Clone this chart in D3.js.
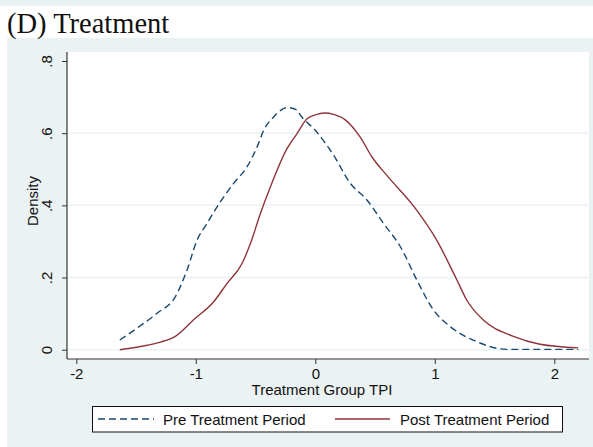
<!DOCTYPE html>
<html>
<head>
<meta charset="utf-8">
<script src="https://cdn.jsdelivr.net/npm/d3@7"></script>
<style>
  body { margin: 0; background: #fff; }
  svg text { font-family: "Liberation Sans", Arial, sans-serif; }
</style>
</head>
<body>
<div id="chart"></div>
<script>
// density estimates
const preX = [-1.636, -1.491, -1.324, -1.171, -1.073, -0.989, -0.906, -0.822, -0.683, -0.571, -0.487, -0.432, -0.349, -0.307, -0.237, -0.153, -0.125, 0.0, 0.153, 0.293, 0.432, 0.571, 0.711, 0.850, 0.989, 1.129, 1.352, 1.603, 1.9, 2.20];
const preY = [0.027, 0.060, 0.101, 0.147, 0.221, 0.304, 0.350, 0.396, 0.461, 0.507, 0.562, 0.608, 0.645, 0.659, 0.671, 0.664, 0.650, 0.608, 0.539, 0.461, 0.415, 0.350, 0.286, 0.193, 0.110, 0.064, 0.022, 0.001, 0.001, 0.001];
const postX = [-1.636, -1.463, -1.296, -1.171, -1.018, -0.85, -0.738, -0.613, -0.543, -0.460, -0.376, -0.237, -0.153, -0.069, 0.014, 0.084, 0.153, 0.251, 0.376, 0.474, 0.599, 0.850, 1.017, 1.185, 1.268, 1.407, 1.658, 1.881, 2.20];
const postY = [0.0, 0.009, 0.021, 0.037, 0.083, 0.133, 0.184, 0.239, 0.294, 0.377, 0.451, 0.557, 0.599, 0.640, 0.652, 0.656, 0.652, 0.637, 0.589, 0.534, 0.483, 0.386, 0.303, 0.193, 0.137, 0.082, 0.037, 0.015, 0.005];
const xTicks = [-2, -1, 0, 1, 2];
const yTicks = [0, 0.2, 0.4, 0.6, 0.8];
const yTickLabels = ["0", ".2", ".4", ".6", ".8"];
const seriesNames = ["Pre Treatment Period", "Post Treatment Period"];

const W = 593, H = 447;
const bg = "#eaf2f3";
const navy = "#1a476f", maroon = "#90353b";
const dash = "7,4";

const svg = d3.select("#chart").append("svg").attr("width", W).attr("height", H);

// backgrounds
svg.append("rect").attr("x", 0).attr("y", 0).attr("width", W).attr("height", 6).attr("fill", bg);
svg.append("rect").attr("x", 7).attr("y", 38).attr("width", W - 7).attr("height", H - 38).attr("fill", bg);

svg.append("text").attr("x", 7).attr("y", 33)
  .style("font-family", '"Liberation Serif", "Times New Roman", serif')
  .style("font-size", "28.5px").attr("fill", "#111")
  .text("(D) Treatment");

const plot = {left: 67, right: 589, top: 52, bottom: 359};
svg.append("rect").attr("x", plot.left).attr("y", plot.top)
  .attr("width", plot.right - plot.left).attr("height", plot.bottom - plot.top).attr("fill", "#fff");

const x = d3.scaleLinear().domain([-2, 2]).range([76.3, 554.3]);
const y = d3.scaleLinear().domain([0, 0.8]).range([349.7, 61]);

// gridlines
svg.append("g").selectAll("line").data(yTicks.slice(0, 4)).join("line")
  .attr("x1", plot.left + 1).attr("x2", plot.right)
  .attr("y1", d => y(d)).attr("y2", d => y(d))
  .attr("stroke", bg).attr("stroke-width", 1.5);

// axes
const yAxis = svg.append("g").attr("transform", `translate(${plot.left},0)`)
  .call(d3.axisLeft(y).tickValues(yTicks).tickSize(5).tickPadding(12)
    .tickFormat((d, i) => yTickLabels[i]));
yAxis.select(".domain").attr("d", `M0,${plot.top}V${plot.bottom}`).attr("stroke", "#333").attr("stroke-width", 1.2);
yAxis.selectAll(".tick line").attr("stroke", "#333");
yAxis.selectAll(".tick text")
  .attr("transform", "rotate(-90)").attr("x", 0).attr("y", -20).attr("dy", "0.35em")
  .style("text-anchor", "middle").style("font-size", "15px").attr("fill", "#111");

const xAxis = svg.append("g").attr("transform", `translate(0,${plot.bottom})`)
  .call(d3.axisBottom(x).tickValues(xTicks).tickSize(5).tickPadding(4).tickFormat(d3.format("d")));
xAxis.select(".domain").attr("d", `M${plot.left},0H${plot.right}`).attr("stroke", "#333").attr("stroke-width", 1.2);
xAxis.selectAll(".tick line").attr("stroke", "#333");
xAxis.selectAll(".tick text").style("font-size", "15px").attr("fill", "#111")
  .text(d => d < 0 ? "-" + Math.abs(d) : d);

svg.append("text").attr("x", 322).attr("y", 395).attr("text-anchor", "middle")
  .style("font-size", "15px").attr("fill", "#111").text("Treatment Group TPI");
svg.append("text").attr("transform", "translate(38,201) rotate(-90)").attr("text-anchor", "middle")
  .style("font-size", "15px").attr("fill", "#111").text("Density");

// curves
const line = d3.line().x(d => x(d[0])).y(d => y(d[1])).curve(d3.curveMonotoneX);
svg.append("path").datum(preX.map((v, i) => [v, preY[i]]))
  .attr("d", line).attr("fill", "none").attr("stroke", navy).attr("stroke-width", 1.4)
  .attr("stroke-dasharray", dash);
svg.append("path").datum(postX.map((v, i) => [v, postY[i]]))
  .attr("d", line).attr("fill", "none").attr("stroke", maroon).attr("stroke-width", 1.4);

// legend
const leg = svg.append("g");
leg.append("rect").attr("x", 92.5).attr("y", 406.5).attr("width", 470).attr("height", 25.5)
  .attr("fill", "#fff").attr("stroke", "#111").attr("stroke-width", 1);
leg.append("line").attr("x1", 98).attr("x2", 154).attr("y1", 419).attr("y2", 419)
  .attr("stroke", navy).attr("stroke-width", 1.4).attr("stroke-dasharray", dash);
leg.append("line").attr("x1", 335).attr("x2", 390).attr("y1", 419).attr("y2", 419)
  .attr("stroke", maroon).attr("stroke-width", 1.4);
leg.append("text").attr("x", 163).attr("y", 424.5).style("font-size", "15px").attr("fill", "#111").text(seriesNames[0]);
leg.append("text").attr("x", 400).attr("y", 424.5).style("font-size", "15px").attr("fill", "#111").text(seriesNames[1]);
</script>
</body>
</html>
